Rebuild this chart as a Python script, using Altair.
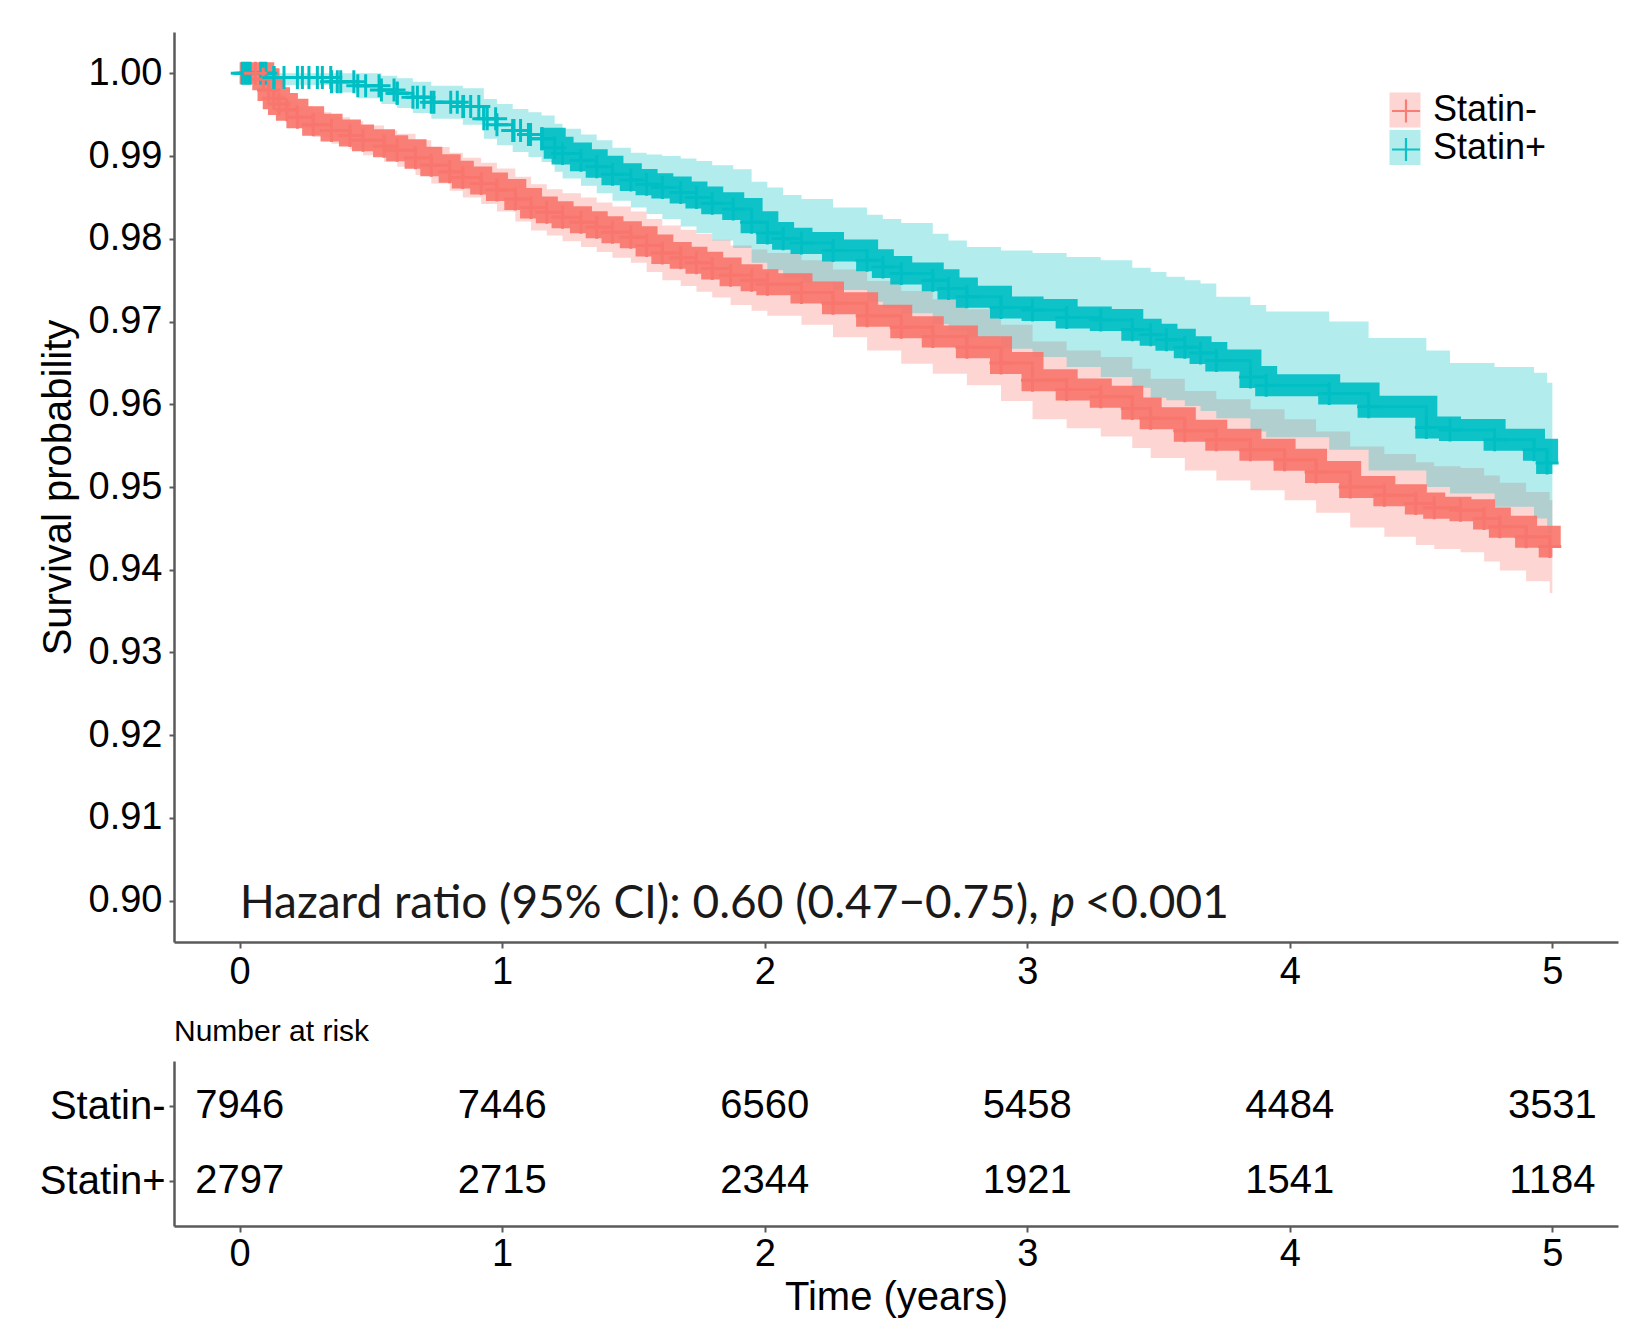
import altair as alt
import pandas as pd
import numpy as np

groups = ["Statin-", "Statin+"]
colors = ["#F8766D", "#00BFC4"]

# Kaplan-Meier estimates: Statin-
minus_t = [0, 0.06, 0.09, 0.11, 0.13, 0.15, 0.18, 0.22, 0.28, 0.35, 0.42, 0.47, 0.55, 0.60, 0.67, 0.73,
           0.80, 0.85, 0.92, 0.98, 1.05, 1.11, 1.17, 1.23, 1.30, 1.36, 1.42, 1.49, 1.55, 1.61, 1.68, 1.74,
           1.80, 1.87, 1.95, 2.01, 2.14, 2.26, 2.39, 2.52, 2.64, 2.77, 2.90, 3.02, 3.15, 3.28, 3.40, 3.47,
           3.60, 3.72, 3.85, 3.98, 4.10, 4.23, 4.36, 4.48, 4.55, 4.65, 4.74, 4.80, 4.90, 4.99, 5.00]
minus_s = [1.0000, 1.0000, 0.9993, 0.9980, 0.9970, 0.9963, 0.9956, 0.9947, 0.9938, 0.9931, 0.9925, 0.9919,
           0.9912, 0.9907, 0.9898, 0.9889, 0.9881, 0.9874, 0.9867, 0.9859, 0.9848, 0.9838, 0.9832, 0.9826,
           0.9820, 0.9814, 0.9808, 0.9802, 0.9792, 0.9783, 0.9777, 0.9771, 0.9764, 0.9756, 0.9750, 0.9745,
           0.9735, 0.9722, 0.9707, 0.9693, 0.9682, 0.9669, 0.9650, 0.9629, 0.9618, 0.9609, 0.9595, 0.9583,
           0.9568, 0.9557, 0.9545, 0.9533, 0.9518, 0.9500, 0.9490, 0.9480, 0.9475, 0.9472, 0.9462, 0.9452,
           0.9440, 0.9428, 0.9428]
minus_lo = [1.0000, 1.0000, 0.9988, 0.9972, 0.9960, 0.9952, 0.9944, 0.9934, 0.9923, 0.9915, 0.9908, 0.9901,
            0.9893, 0.9887, 0.9877, 0.9867, 0.9858, 0.9850, 0.9842, 0.9833, 0.9821, 0.9810, 0.9804, 0.9797,
            0.9790, 0.9784, 0.9777, 0.9771, 0.9760, 0.9750, 0.9743, 0.9736, 0.9729, 0.9720, 0.9713, 0.9707,
            0.9696, 0.9681, 0.9665, 0.9649, 0.9637, 0.9623, 0.9604, 0.9582, 0.9571, 0.9561, 0.9547, 0.9535,
            0.9520, 0.9508, 0.9496, 0.9484, 0.9469, 0.9451, 0.9440, 0.9430, 0.9425, 0.9421, 0.9410, 0.9399,
            0.9386, 0.9372, 0.9372]
minus_hi = [1.0000, 1.0000, 0.9998, 0.9988, 0.9980, 0.9974, 0.9968, 0.9960, 0.9953, 0.9947, 0.9942, 0.9937,
            0.9931, 0.9927, 0.9919, 0.9911, 0.9904, 0.9898, 0.9892, 0.9885, 0.9875, 0.9866, 0.9860, 0.9855,
            0.9850, 0.9844, 0.9839, 0.9833, 0.9824, 0.9816, 0.9811, 0.9806, 0.9799, 0.9792, 0.9787, 0.9783,
            0.9774, 0.9763, 0.9749, 0.9737, 0.9727, 0.9715, 0.9696, 0.9676, 0.9665, 0.9657, 0.9643, 0.9631,
            0.9616, 0.9606, 0.9594, 0.9582, 0.9567, 0.9549, 0.9540, 0.9530, 0.9525, 0.9523, 0.9514, 0.9505,
            0.9494, 0.9484, 0.9484]

# Statin+
plus_t = [0, 0.13, 0.35, 0.45, 0.54, 0.60, 0.66, 0.73, 0.85, 0.93, 0.98, 1.04, 1.10, 1.15, 1.20, 1.23,
          1.30, 1.36, 1.42, 1.49, 1.55, 1.61, 1.68, 1.74, 1.80, 1.88, 1.95, 2.01, 2.07, 2.14, 2.26, 2.39,
          2.45, 2.52, 2.64, 2.70, 2.77, 2.90, 3.02, 3.15, 3.28, 3.40, 3.47, 3.53, 3.60, 3.66, 3.72, 3.85,
          3.91, 4.15, 4.30, 4.52, 4.61, 4.78, 4.93, 4.98, 5.00]
plus_s = [1.0000, 0.9995, 0.9990, 0.9985, 0.9980, 0.9976, 0.9971, 0.9965, 0.9960, 0.9945, 0.9938, 0.9931,
          0.9926, 0.9921, 0.9910, 0.9903, 0.9895, 0.9887, 0.9878, 0.9871, 0.9866, 0.9862, 0.9856, 0.9850,
          0.9843, 0.9836, 0.9820, 0.9807, 0.9800, 0.9795, 0.9786, 0.9774, 0.9766, 0.9758, 0.9750, 0.9740,
          0.9730, 0.9717, 0.9714, 0.9705, 0.9702, 0.9690, 0.9684, 0.9678, 0.9669, 0.9662, 0.9653, 0.9633,
          0.9623, 0.9613, 0.9597, 0.9572, 0.9569, 0.9557, 0.9545, 0.9529, 0.9529]
plus_lo = [1.0000, 0.9986, 0.9977, 0.9970, 0.9963, 0.9958, 0.9952, 0.9945, 0.9938, 0.9921, 0.9913, 0.9905,
           0.9899, 0.9893, 0.9881, 0.9873, 0.9864, 0.9855, 0.9846, 0.9838, 0.9830, 0.9824, 0.9815, 0.9807,
           0.9798, 0.9789, 0.9771, 0.9762, 0.9753, 0.9747, 0.9738, 0.9724, 0.9716, 0.9710, 0.9697, 0.9689,
           0.9681, 0.9667, 0.9657, 0.9645, 0.9633, 0.9620, 0.9608, 0.9605, 0.9598, 0.9592, 0.9583, 0.9567,
           0.9560, 0.9545, 0.9520, 0.9500, 0.9492, 0.9476, 0.9462, 0.9444, 0.9444]
plus_hi = [1.0000, 1.0000, 1.0000, 1.0000, 0.9997, 0.9994, 0.9990, 0.9985, 0.9982, 0.9969, 0.9963, 0.9957,
           0.9953, 0.9949, 0.9939, 0.9933, 0.9926, 0.9919, 0.9910, 0.9904, 0.9902, 0.9900, 0.9897, 0.9894,
           0.9889, 0.9884, 0.9869, 0.9862, 0.9853, 0.9848, 0.9838, 0.9829, 0.9824, 0.9819, 0.9806, 0.9798,
           0.9790, 0.9786, 0.9783, 0.9778, 0.9774, 0.9765, 0.9760, 0.9754, 0.9750, 0.9746, 0.9730, 0.9720,
           0.9712, 0.9700, 0.9680, 0.9665, 0.9650, 0.9645, 0.9638, 0.9626, 0.9626]

# early, sparse censoring marks of Statin+ (years)
plus_censor_t = [0.01, 0.02, 0.03, 0.04, 0.08, 0.09, 0.10, 0.131, 0.169, 0.220, 0.239, 0.264, 0.296,
                 0.315, 0.347, 0.372, 0.385, 0.435, 0.480, 0.531, 0.588, 0.600, 0.677, 0.702, 0.740,
                 0.804, 0.829, 0.853, 0.880, 0.911, 0.943, 0.975, 1.045, 1.070, 1.108, 1.153]

risk_t = [0, 1, 2, 3, 4, 5]
risk_minus = [7946, 7446, 6560, 5458, 4484, 3531]
risk_plus = [2797, 2715, 2344, 1921, 1541, 1184]

x_ticks = [0, 1, 2, 3, 4, 5]
y_ticks = [0.90, 0.91, 0.92, 0.93, 0.94, 0.95, 0.96, 0.97, 0.98, 0.99, 1.00]

hr_text = ["Hazard ratio (95% CI): 0.60 (0.47\u22120.75),", "p", "<0.001"]

# ---- tables ----
curve = pd.concat([
    pd.DataFrame({"t": minus_t, "s": minus_s, "lo": minus_lo, "hi": minus_hi, "group": groups[0]}),
    pd.DataFrame({"t": plus_t, "s": plus_s, "lo": plus_lo, "hi": plus_hi, "group": groups[1]}),
], ignore_index=True)
curve["group2"] = curve["group"]

# censor marks: the step value of the curve at each censoring time
pt = np.array(plus_t)
ps = np.array(plus_s)
idx = np.searchsorted(pt, np.array(plus_censor_t), side="right") - 1
censor = pd.DataFrame({"t": plus_censor_t, "s": ps[idx], "group2": groups[1]})
censor = pd.concat([censor, curve.loc[(curve["t"] > 0) & (curve["t"] < 5), ["t", "s", "group2"]]],
                   ignore_index=True)

risk = pd.concat([
    pd.DataFrame({"t": risk_t, "n": risk_minus, "group": groups[0]}),
    pd.DataFrame({"t": risk_t, "n": risk_plus, "group": groups[1]}),
], ignore_index=True)

FONT = "Liberation Sans"
AX = "#5a5a5a"
xdom = [-0.25, 5.25]
ydom = [0.895, 1.005]
W = 1444

fill_scale = alt.Scale(domain=groups, range=colors)
# same colours, listed in the other order so that the two legends stay separate
stroke_scale = alt.Scale(domain=groups[::-1], range=colors[::-1])

x_main = alt.X("t:Q", scale=alt.Scale(domain=xdom, nice=False, zero=False),
               axis=alt.Axis(values=x_ticks, title=None, grid=False, labelFontSize=38, labelFont=FONT,
                             labelColor="black", domainColor=AX, domainWidth=2.5, tickColor=AX,
                             tickWidth=2, tickSize=6, labelPadding=5, format="d"))
y_scale = alt.Scale(domain=ydom, nice=False, zero=False)

legend_common = dict(orient="none", legendX=1213, legendY=60, title=None, labelFontSize=36,
                     labelFont=FONT, labelColor="black", rowPadding=1.5, padding=0, labelOffset=10,
                     symbolSize=1225, values=groups)

band = alt.Chart(curve).mark_area(interpolate="step-after", opacity=0.3).encode(
    x=x_main,
    y=alt.Y("lo:Q", scale=y_scale,
            axis=alt.Axis(values=y_ticks, format=".2f", title="Survival probability", grid=False,
                          labelFontSize=38, labelFont=FONT, labelColor="black", domainColor=AX,
                          domainWidth=2.5, tickColor=AX, tickWidth=2, tickSize=5, labelPadding=7,
                          titleFontSize=40, titleFont=FONT, titleFontWeight="normal",
                          titleColor="black", titlePadding=10)),
    y2="hi:Q",
    fill=alt.Fill("group:N", scale=fill_scale,
                  legend=alt.Legend(symbolType="M-0.886,-1H0.886V1H-0.886Z", symbolOpacity=0.3,
                                    symbolStrokeWidth=0, **legend_common)),
)

# second legend: only the "+" symbols, drawn over the squares of the first (no label text)
thin = alt.Chart(curve).mark_line(interpolate="step-after", strokeWidth=3).encode(
    x="t:Q", y="s:Q",
    stroke=alt.Stroke("group2:N", scale=stroke_scale,
                      legend=alt.Legend(symbolType="M0,-0.66V0.66M-0.8,0H0.8", symbolStrokeWidth=2.2,
                                        symbolFillColor="transparent", symbolOpacity=1,
                                        labelExpr="''", **legend_common)),
)

thick = alt.Chart(curve).transform_filter(
    "datum.group == 'Statin-' || datum.t >= 1.15"
).mark_line(interpolate="step-after", strokeWidth=22, strokeCap="butt", strokeJoin="miter",
            opacity=0.92).encode(x="t:Q", y="s:Q", stroke="group2:N")

marks = alt.Chart(censor).mark_point(shape="M0,-1V1M-1,0H1", size=529, strokeWidth=3,
                                     filled=False, opacity=1).encode(
    x="t:Q", y="s:Q", stroke="group2:N")

hr_df = pd.DataFrame({"a": [hr_text[0]], "b": [hr_text[1]], "c": [hr_text[2]]})
hr1 = alt.Chart(hr_df).mark_text(align="left", baseline="alphabetic", dy=17, fontSize=46, font="Lato",
                                 color="#1a1a1a").encode(x=alt.datum(0), y=alt.datum(0.90), text="a:N")
hr2 = alt.Chart(hr_df).mark_text(align="left", baseline="alphabetic", dy=17, dx=811, fontSize=46,
                                 font="Lato", fontStyle="italic", color="#1a1a1a").encode(
    x=alt.datum(0), y=alt.datum(0.90), text="b:N")
hr3 = alt.Chart(hr_df).mark_text(align="left", baseline="alphabetic", dy=17, dx=845, fontSize=46,
                                 font="Lato", color="#1a1a1a").encode(
    x=alt.datum(0), y=alt.datum(0.90), text="c:N")

main = alt.layer(band, thin, thick, marks, hr1, hr2, hr3).properties(width=W, height=910)

risk_chart = alt.Chart(risk).mark_text(fontSize=40, font=FONT, color="black").encode(
    x=alt.X("t:Q", scale=alt.Scale(domain=xdom, nice=False, zero=False),
            axis=alt.Axis(values=x_ticks, title="Time (years)", grid=False, labelFontSize=38,
                          labelFont=FONT, labelColor="black", domainColor=AX, domainWidth=2.5,
                          tickColor=AX, tickWidth=2, tickSize=6, labelPadding=3, format="d",
                          titleFontSize=40, titleFont=FONT, titleFontWeight="normal",
                          titleColor="black", titlePadding=4)),
    y=alt.Y("group:N", scale=alt.Scale(type="point", domain=groups, padding=0.6),
            axis=alt.Axis(title=None, labelFontSize=40, labelFont=FONT, labelColor="black",
                          domainColor=AX, domainWidth=2.5, tickColor=AX, tickWidth=2, tickSize=5,
                          labelPadding=4, grid=False)),
    text="n:Q",
).properties(
    width=W, height=165,
    title=alt.TitleParams("Number at risk", anchor="start", frame="group", fontSize=30, font=FONT,
                          fontWeight="normal", color="black", offset=14),
)

chart = alt.vconcat(main, risk_chart, spacing=119, bounds="flush").resolve_scale(
    x="independent", y="independent"
).properties(
    padding={"left": 30, "top": 21, "right": 5, "bottom": 5},
    background="white",
).configure_view(stroke=None)

chart.save("out.html", embed_options={"renderer": "svg", "actions": False})
